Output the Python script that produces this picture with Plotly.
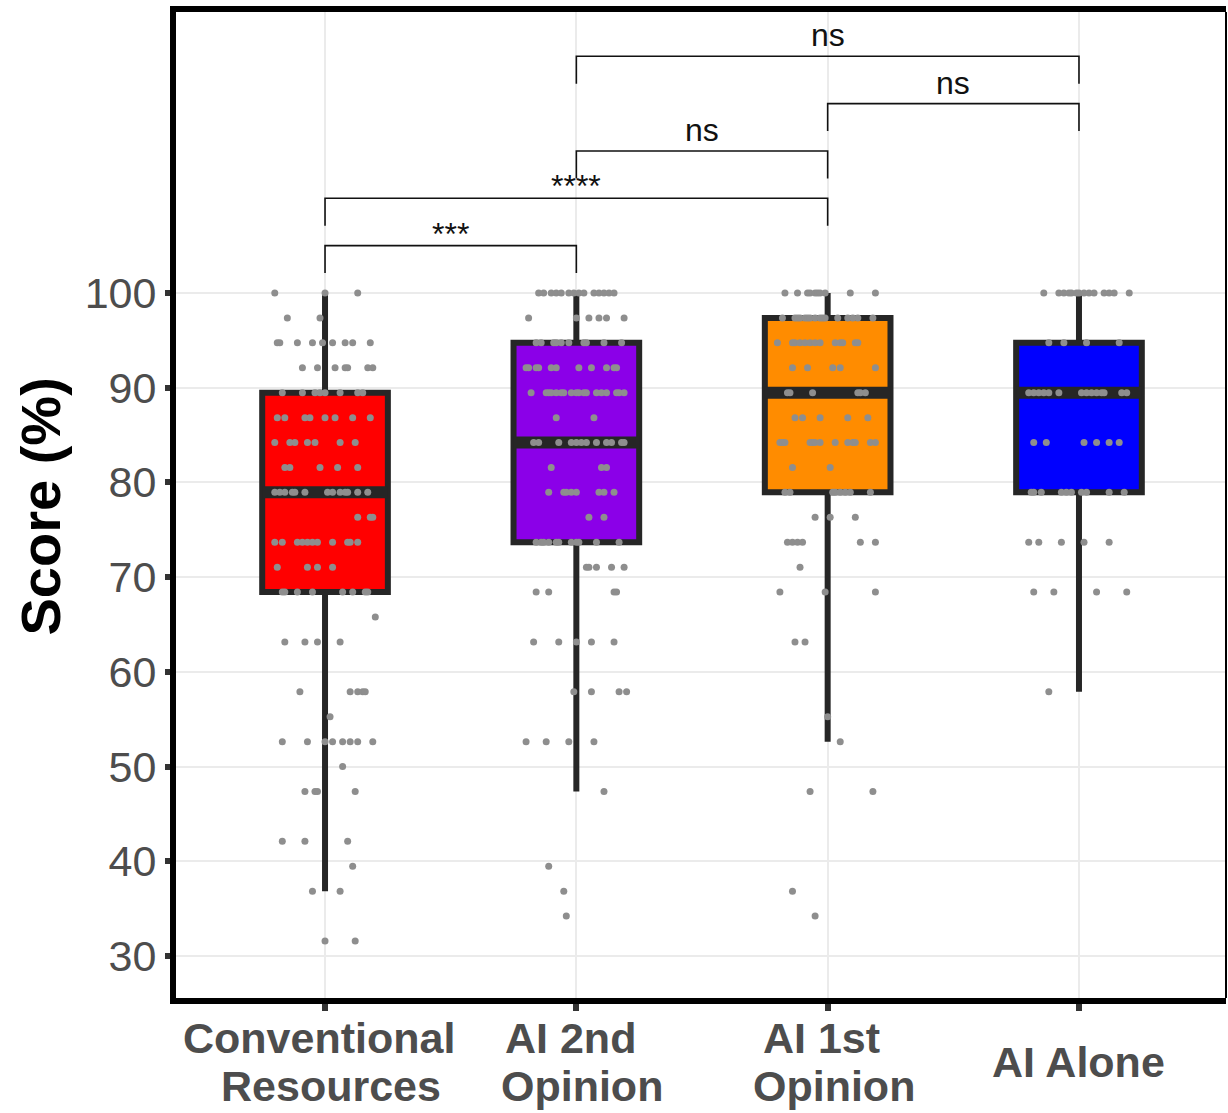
import plotly.graph_objects as go

# ---------------- data ----------------
categories = ["Conventional Resources", "AI 2nd Opinion", "AI 1st Opinion", "AI Alone"]
label_lines = [["Conventional", "Resources"], ["AI 2nd", "Opinion"], ["AI 1st", "Opinion"], ["AI Alone"]]
positions = [1, 2, 3, 4]
fill_colors = ["#FF0000", "#8B00E8", "#FF8C00", "#0000FF"]

# box statistics (score %)
q1 = [68.42, 73.68, 78.95, 78.95]
median = [78.95, 84.21, 89.47, 89.47]
q3 = [89.47, 94.74, 97.37, 94.74]
lower_whisker = [36.84, 47.37, 52.63, 57.89]
upper_whisker = [100, 100, 100, 100]

# individual scores: score levels and the horizontal jitter of each point at that level
cr_levels = [100, 97.37, 94.74, 92.11, 89.47, 86.84, 84.21, 81.58, 78.95, 76.32, 73.68, 71.05,
             68.42, 65.79, 63.16, 57.89, 55.26, 52.63, 50.00, 47.37, 42.11, 39.47, 36.84, 31.58]
cr_offsets = [
    [-0.20, 0.00, 0.13],
    [-0.15, -0.02],
    [-0.19, -0.18, -0.11, -0.05, -0.01, 0.03, 0.08, 0.11, 0.18],
    [-0.09, -0.03, 0.04, 0.08, 0.09, 0.17, 0.19],
    [-0.17, -0.09, -0.04, -0.02, 0.00, 0.06, 0.13, 0.15],
    [-0.19, -0.16, -0.08, -0.06, 0.00, 0.04, 0.11, 0.18],
    [-0.20, -0.14, -0.12, -0.07, -0.04, 0.06, 0.12],
    [-0.16, -0.14, -0.02, 0.05, 0.13],
    [-0.20, -0.18, -0.16, -0.13, -0.12, -0.08, 0.01, 0.03, 0.06, 0.08, 0.09, 0.13, 0.17],
    [0.13, 0.18, 0.19],
    [-0.20, -0.17, -0.11, -0.09, -0.07, -0.05, -0.03, 0.03, 0.09, 0.10, 0.13],
    [-0.19, -0.07, -0.03, 0.03],
    [-0.17, -0.16, -0.11, -0.05, 0.07, 0.11, 0.16, 0.17],
    [0.20],
    [-0.16, -0.08, -0.03, 0.06],
    [-0.10, 0.10, 0.13, 0.15, 0.16],
    [0.02],
    [-0.17, -0.07, 0.00, 0.03, 0.07, 0.10, 0.13, 0.19],
    [0.07],
    [-0.08, -0.04, -0.03, 0.12],
    [-0.17, -0.08, 0.09],
    [0.11],
    [-0.05, 0.06],
    [0.00, 0.12],
]

ai2_levels = [100, 97.37, 94.74, 92.11, 89.47, 86.84, 84.21, 81.58, 78.95, 76.32, 73.68, 71.05,
              68.42, 63.16, 57.89, 52.63, 47.37, 39.47, 36.84, 34.21]
ai2_offsets = [
    [-0.15, -0.13, -0.10, -0.08, -0.06, -0.03, -0.01, 0.01, 0.03, 0.07, 0.09, 0.11, 0.13, 0.15],
    [-0.19, 0.00, 0.05, 0.09, 0.12, 0.19],
    [-0.16, -0.14, -0.09, -0.08, -0.06, -0.03, 0.03, 0.04, 0.11, 0.18],
    [-0.20, -0.19, -0.16, -0.15, -0.10, -0.08, 0.01, 0.06, 0.12, 0.15, 0.16],
    [-0.18, -0.12, -0.11, -0.10, -0.08, -0.06, -0.05, -0.02, 0.00, 0.01, 0.03, 0.04, 0.08, 0.10,
     0.12, 0.16, 0.17, 0.19],
    [-0.08, 0.07],
    [-0.17, -0.15, -0.07, -0.02, 0.00, 0.02, 0.04, 0.08, 0.12, 0.14, 0.18, 0.19],
    [-0.10, 0.10, 0.12],
    [-0.11, -0.05, -0.04, -0.02, 0.00, 0.09, 0.11, 0.15],
    [0.05, 0.11],
    [-0.16, -0.14, -0.13, -0.11, -0.08, -0.07, -0.02, 0.00, 0.01, 0.08, 0.17],
    [0.04, 0.05, 0.08, 0.14, 0.19],
    [-0.16, -0.11, 0.15, 0.16],
    [-0.17, -0.07, 0.00, 0.06, 0.15],
    [-0.01, 0.06, 0.17, 0.20],
    [-0.20, -0.12, -0.03, 0.07],
    [0.11],
    [-0.11],
    [-0.05],
    [-0.04],
]

ai1_levels = [100, 97.37, 94.74, 92.11, 89.47, 86.84, 84.21, 81.58, 78.95, 76.32, 73.68, 71.05,
              68.42, 63.16, 55.26, 52.63, 47.37, 36.84, 34.21]
ai1_offsets = [
    [-0.17, -0.12, -0.08, -0.07, -0.05, -0.04, -0.03, -0.01, 0.09, 0.19],
    [-0.18, -0.13, -0.12, -0.11, -0.09, -0.08, -0.07, -0.05, -0.03, -0.02, -0.01, 0.04, 0.08,
     0.10, 0.12, 0.18],
    [-0.20, -0.14, -0.13, -0.11, -0.09, -0.07, -0.05, -0.03, 0.03, 0.05, 0.06, 0.11, 0.12],
    [-0.14, -0.08, 0.02, 0.05, 0.19],
    [-0.16, -0.15, -0.06, 0.12, 0.13, 0.15],
    [-0.13, -0.10, -0.03, 0.08, 0.16],
    [-0.19, -0.18, -0.17, -0.07, -0.06, -0.05, -0.03, 0.03, 0.08, 0.10, 0.11, 0.17, 0.19],
    [-0.14, 0.01],
    [-0.17, -0.15, 0.02, 0.03, 0.05, 0.07, 0.09, 0.17],
    [-0.05, 0.01, 0.11],
    [-0.16, -0.14, -0.12, -0.10, 0.13, 0.19],
    [-0.11],
    [-0.19, -0.01, 0.19],
    [-0.13, -0.09],
    [0.00],
    [0.05],
    [-0.07, 0.18],
    [-0.14],
    [-0.05],
]

alone_levels = [100, 94.74, 89.47, 84.21, 78.95, 73.68, 68.42, 57.89]
alone_offsets = [
    [-0.14, -0.08, -0.06, -0.04, -0.03, -0.01, 0.00, 0.02, 0.04, 0.06, 0.10, 0.12, 0.14, 0.20],
    [-0.12, -0.06, 0.03, 0.16],
    [-0.20, -0.18, -0.16, -0.14, -0.12, -0.08, 0.01, 0.03, 0.05, 0.07, 0.09, 0.10, 0.17, 0.19],
    [-0.18, -0.13, 0.02, 0.07, 0.12, 0.16],
    [-0.19, -0.18, -0.15, -0.07, -0.05, -0.03, 0.01, 0.03, 0.12, 0.18],
    [-0.20, -0.16, -0.07, 0.02, 0.12],
    [-0.18, -0.10, 0.07, 0.19],
    [-0.12],
]

group_levels = [cr_levels, ai2_levels, ai1_levels, alone_levels]
group_offsets = [cr_offsets, ai2_offsets, ai1_offsets, alone_offsets]

# significance brackets: (group a, group b, bar height, label)
bracket_a = [1, 1, 2, 3, 2]
bracket_b = [2, 3, 3, 4, 4]
bracket_h = [105, 110, 115, 120, 125]
bracket_label = ["***", "****", "ns", "ns", "ns"]

y_ticks = [30, 40, 50, 60, 70, 80, 90, 100]

# ---------------- figure ----------------
FONT = "Liberation Sans, Arial, sans-serif"
DARK = "#262626"
BOX_W = 0.5

fig = go.Figure()

for i, pos in enumerate(positions):
    fig.add_trace(go.Box(
        x=[pos], q1=[q1[i]], median=[median[i]], q3=[q3[i]],
        lowerfence=[lower_whisker[i]], upperfence=[upper_whisker[i]],
        width=BOX_W, whiskerwidth=0, boxpoints=False,
        fillcolor=fill_colors[i], line=dict(color=DARK, width=6),
        showlegend=False, hoverinfo="skip", name=categories[i],
    ))

# thick median bars
for i, pos in enumerate(positions):
    fig.add_trace(go.Scatter(
        x=[pos - BOX_W / 2, pos + BOX_W / 2], y=[median[i], median[i]],
        mode="lines", line=dict(color=DARK, width=12),
        showlegend=False, hoverinfo="skip",
    ))

# jittered points
for i, pos in enumerate(positions):
    xs, ys = [], []
    for lvl, offs in zip(group_levels[i], group_offsets[i]):
        for o in offs:
            xs.append(pos + o)
            ys.append(lvl)
    fig.add_trace(go.Scatter(
        x=xs, y=ys, mode="markers",
        marker=dict(size=7, color="#8E8E8E", line=dict(width=0)),
        showlegend=False, hoverinfo="skip",
    ))

# significance brackets
TICK_DROP = 2.9
for a, b, h, lab in zip(bracket_a, bracket_b, bracket_h, bracket_label):
    fig.add_trace(go.Scatter(
        x=[a, a, b, b], y=[h - TICK_DROP, h, h, h - TICK_DROP],
        mode="lines", line=dict(color="#111111", width=1.6),
        showlegend=False, hoverinfo="skip",
    ))
    is_star = lab.startswith("*")
    fig.add_annotation(
        x=(a + b) / 2, y=h, xref="x", yref="y", text=lab, showarrow=False,
        xanchor="center", yanchor="bottom", yshift=(-8 if is_star else 1),
        font=dict(family=FONT, size=32, color="#111111"),
    )

# x category labels (ggplot-like centred multi-line labels)
LINE_GAP = 48
for pos, lines in zip(positions, label_lines):
    n = len(lines)
    for j, txt in enumerate(lines):
        shift = -64 - (j - (n - 1) / 2) * LINE_GAP
        xshift = 0 if n == 1 else (-6 if j == 0 else 6)
        fig.add_annotation(
            x=pos, y=0, xref="x", yref="paper", text=f"<b>{txt}</b>", showarrow=False,
            xanchor="center", yanchor="middle", yshift=shift, xshift=xshift,
            font=dict(family=FONT, size=43, color="#4D4D4D"),
        )

# y-axis title
fig.add_annotation(
    x=0, y=0.4985, xref="paper", yref="paper", xshift=-136,
    text="<b>Score (%)</b>", textangle=-90, showarrow=False,
    xanchor="center", yanchor="middle",
    font=dict(family=FONT, size=56, color="#000000"),
)

# thin right border
fig.add_shape(type="line", xref="paper", yref="paper", x0=1, x1=1, y0=0, y1=1,
              line=dict(color="#000000", width=2))

fig.update_layout(
    width=1228, height=1113,
    margin=dict(l=176, r=2, t=12, b=115),
    paper_bgcolor="white", plot_bgcolor="white",
    showlegend=False,
    xaxis=dict(
        range=[0.407, 4.585], tickvals=positions, showticklabels=False,
        ticks="outside", ticklen=7, tickwidth=6, tickcolor="#333333",
        showgrid=True, gridcolor="#EBEBEB", gridwidth=2,
        showline=True, linecolor="#000000", linewidth=6, mirror=True,
        zeroline=False,
    ),
    yaxis=dict(
        range=[25.56, 129.67], tickvals=y_ticks, ticktext=[str(v) for v in y_ticks],
        ticks="outside", ticklen=5, tickwidth=6, tickcolor="#333333",
        tickfont=dict(family=FONT, size=43, color="#4D4D4D"),
        showgrid=True, gridcolor="#EBEBEB", gridwidth=2,
        showline=True, linecolor="#000000", linewidth=6,
        zeroline=False,
    ),
)

fig.write_html("out.html")
